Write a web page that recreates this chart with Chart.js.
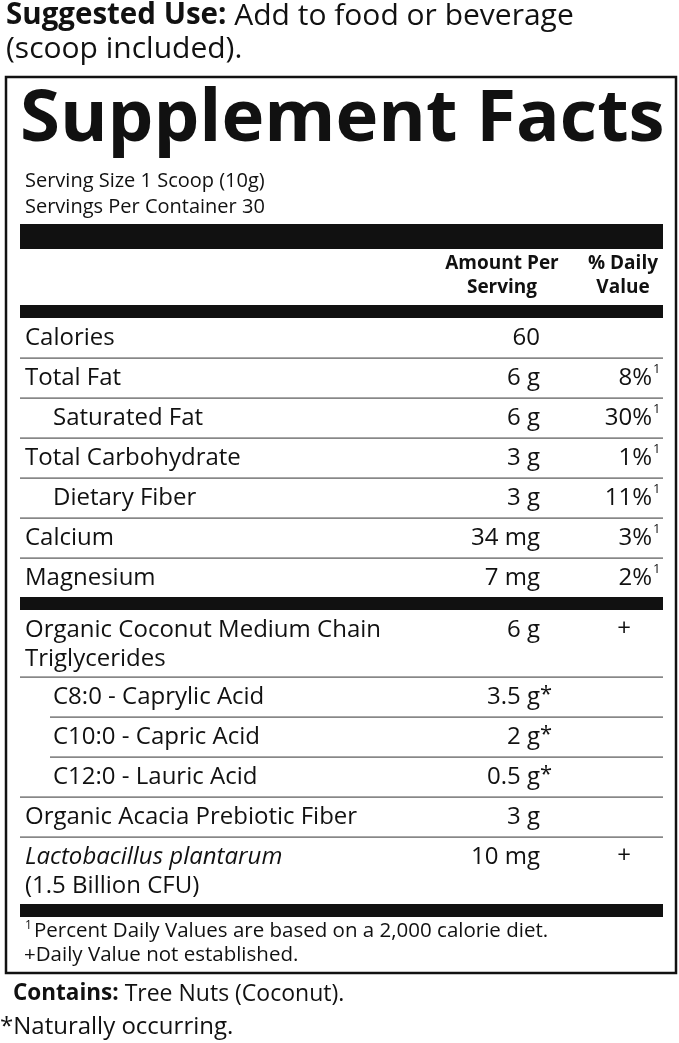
<!DOCTYPE html>
<html><head><meta charset="utf-8">
<script src="https://cdn.jsdelivr.net/npm/chart.js@4"></script>
<style>html,body{margin:0;padding:0;background:#fff}canvas{display:block}</style>
</head><body>
<canvas id="label" width="679" height="1043"></canvas>
<script>
// Label content
const rowNames = ["Calories", "Total Fat", "Saturated Fat", "Total Carbohydrate", "Dietary Fiber", "Calcium", "Magnesium",
  "Organic Coconut Medium Chain|Triglycerides", "C8:0 - Caprylic Acid", "C10:0 - Capric Acid", "C12:0 - Lauric Acid",
  "Organic Acacia Prebiotic Fiber", "Lactobacillus plantarum|(1.5 Billion CFU)"];
const rowAmounts = ["60", "6 g", "6 g", "3 g", "3 g", "34 mg", "7 mg", "6 g", "3.5 g", "2 g", "0.5 g", "3 g", "10 mg"];
const rowStar = [false, false, false, false, false, false, false, false, true, true, true, false, false];
const rowDaily = ["", "8%", "30%", "1%", "11%", "3%", "2%", "+", "", "", "", "", "+"];
const rowIndent = [false, false, true, false, true, false, false, false, true, true, true, false, false];
const rowItalic = [false, false, false, false, false, false, false, false, false, false, false, false, true];
const barAfter = [6]; // thick bar after Magnesium

const FONT = '"Open Sans", "Noto Sans", sans-serif';

const labelPlugin = {
  id: "labelPlugin",
  afterDraw: (chart) => {
    const ctx = chart.ctx;
    const X = (v) => chart.scales.x.getPixelForValue(v);
    const Y = (v) => chart.scales.y.getPixelForValue(v);
    const text = (s, x, y, size, weight, align, style) => {
      ctx.font = `${style || ""} ${weight || 400} ${size}px ${FONT}`;
      ctx.textAlign = align || "left";
      ctx.textBaseline = "middle";
      ctx.fillStyle = "#111";
      ctx.fillText(s, X(x), Y(y));
      return ctx.measureText(s).width;
    };
    const bar = (y0, y1, x0 = 20, x1 = 663) => {
      ctx.fillStyle = "#111";
      ctx.fillRect(X(x0), Y(y0), X(x1) - X(x0), Y(y1) - Y(y0));
    };

    // Suggested use
    const w = text("Suggested Use:", 6, 16, 29.5, 700);
    text(" Add to food or beverage", 6 + w, 16, 30, 400);
    text("(scoop included).", 6, 49, 30, 400);

    // Box
    ctx.strokeStyle = "#111";
    ctx.lineWidth = 2.5;
    ctx.strokeRect(X(6), Y(77), X(676) - X(6), Y(973) - Y(77));

    text("Supplement Facts", 20, 120, 72.5, 700);
    text("Serving Size 1 Scoop (10g)", 25, 181, 20);
    text("Servings Per Container 30", 25, 207, 20);

    bar(224, 249);
    text("Amount Per", 502, 264, 19, 700, "center");
    text("Serving", 502, 288, 19, 700, "center");
    text("% Daily", 623, 264, 19, 700, "center");
    text("Value", 623, 288, 19, 700, "center");
    bar(305, 318);

    let top = 318;
    rowNames.forEach((name, i) => {
      const lines = name.split("|");
      const h = lines.length > 1 ? 67 : 40;
      const x = rowIndent[i] ? 53 : 25;
      lines.forEach((ln, k) => text(ln, x, top + 20 + k * 29, 24, 400, "left", rowItalic[i] && k === 0 ? "italic" : ""));
      text(rowAmounts[i], 540, top + 20, 24, 400, "right");
      if (rowStar[i]) text("*", 540, top + 18, 22, 400, "left");
      const d = rowDaily[i];
      if (d === "+") text("+", 624, top + 19, 24, 400, "center");
      else if (d) {
        text(d, 652, top + 20, 24, 400, "right");
        text("1", 653, top + 11, 13, 400, "left");
      }
      top += h;
      if (barAfter.includes(i)) {
        bar(top - 1, top + 12);
        top += 12;
      } else if (i < rowNames.length - 1) {
        const lx = rowIndent[i + 1] && rowIndent[i] ? 50 : 20;
        ctx.fillStyle = "#555";
        ctx.fillRect(X(lx), Y(top - 0.5), X(663) - X(lx), 1.2);
      }
    });
    bar(top, top + 13);

    text("1", 25, 926, 12);
    text("Percent Daily Values are based on a 2,000 calorie diet.", 34, 931, 20.5);
    text("+Daily Value not established.", 24, 955, 20.5);

    const c = text("Contains:", 13, 994, 22.5, 700);
    text(" Tree Nuts (Coconut).", 13 + c, 994, 23);
    text("*Naturally occurring.", 0, 1027, 24);
  },
};

new Chart(document.getElementById("label"), {
  type: "scatter",
  data: { datasets: [{ data: [] }] },
  options: {
    responsive: false,
    animation: false,
    layout: { padding: 0 },
    plugins: { legend: { display: false }, tooltip: { enabled: false } },
    scales: {
      x: { type: "linear", min: 0, max: 679, display: false },
      y: { type: "linear", min: 0, max: 1043, reverse: true, display: false },
    },
  },
  plugins: [labelPlugin],
});
</script>
</body></html>
